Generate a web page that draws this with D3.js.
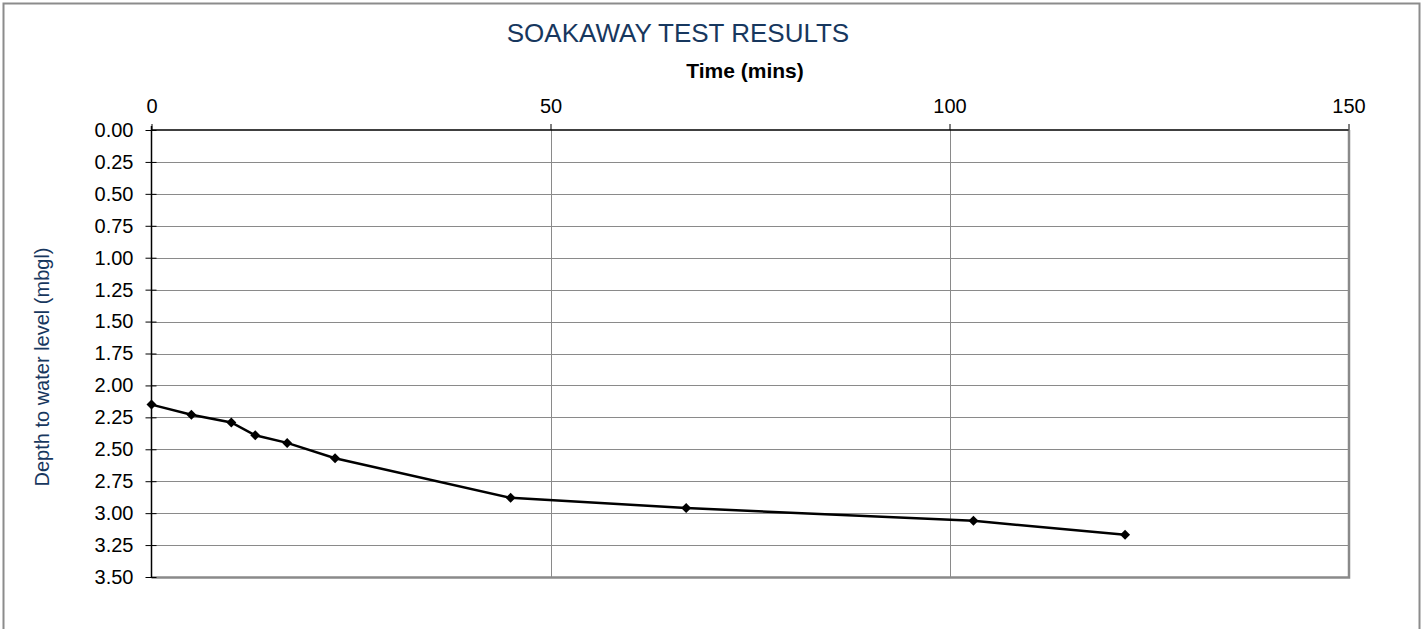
<!DOCTYPE html>
<html>
<head>
<meta charset="utf-8">
<script src="https://cdn.jsdelivr.net/npm/d3@7"></script>
<style>
  html, body { margin: 0; padding: 0; background: #fff; }
  svg { display: block; font-family: "Liberation Sans", Arial, sans-serif; }
</style>
</head>
<body>
<svg id="chart" width="1426" height="629"></svg>
<script>
// Soakaway test readings: elapsed time (mins) and depth to water (m below ground level)
const timeMins = [0, 5, 10, 13, 17, 23, 45, 67, 103, 122];
const depthMbgl = [2.15, 2.23, 2.29, 2.39, 2.45, 2.57, 2.88, 2.96, 3.06, 3.17];
const xTicks = [0, 50, 100, 150];
const yTicks = [0, 0.25, 0.5, 0.75, 1, 1.25, 1.5, 1.75, 2, 2.25, 2.5, 2.75, 3, 3.25, 3.5];

const titleText = "SOAKAWAY TEST RESULTS";
const xLabel = "Time (mins)";
const yLabel = "Depth to water level (mbgl)";

const svg = d3.select("#chart");
const plot = { left: 151.5, top: 130, right: 1348.5, bottom: 577 };
const navy = "#17375E";
const fontFam = "Liberation Sans, Arial, sans-serif";

// outer frame
svg.append("rect").attr("x", 3.5).attr("y", 3.5).attr("width", 1416).attr("height", 640)
  .attr("fill", "#fff").attr("stroke", "#8c8c8c").attr("stroke-width", 2);

const x = d3.scaleLinear().domain([0, 150]).range([plot.left, plot.right]);
const y = d3.scaleLinear().domain([0, 3.5]).range([plot.top, plot.bottom]);

// horizontal gridlines
svg.append("g").selectAll("line").data(yTicks.slice(1)).join("line")
  .attr("x1", plot.left).attr("x2", plot.right)
  .attr("y1", d => Math.round(y(d)) + 0.5).attr("y2", d => Math.round(y(d)) + 0.5)
  .attr("stroke", "#8a8a8a").attr("stroke-width", 1);

// vertical gridlines
svg.append("g").selectAll("line").data(xTicks.slice(1)).join("line")
  .attr("x1", d => Math.round(x(d)) + 0.5).attr("x2", d => Math.round(x(d)) + 0.5)
  .attr("y1", plot.top).attr("y2", plot.bottom)
  .attr("stroke", "#8a8a8a").attr("stroke-width", 1);

// plot frame right / bottom
svg.append("path")
  .attr("d", `M${plot.right + 0.5},${plot.top}V${plot.bottom + 0.5}H${plot.left}`)
  .attr("fill", "none").attr("stroke", "#8a8a8a").attr("stroke-width", 2.5);

// top axis (time)
const xAxis = d3.axisTop(x).tickValues(xTicks).tickSize(6).tickPadding(11).tickFormat(d3.format("d"));
const gx = svg.append("g").attr("transform", `translate(0,${plot.top})`).call(xAxis);
gx.select(".domain").attr("stroke", "#000").attr("stroke-width", 1.5).attr("d", `M${plot.left},0H${plot.right}`);
gx.selectAll(".tick line").attr("stroke", "#000");
gx.selectAll(".tick text").attr("font-size", 20).attr("fill", "#000").attr("font-family", fontFam);

// left axis (depth)
const yAxis = d3.axisLeft(y).tickValues(yTicks).tickSize(6).tickPadding(12).tickFormat(d3.format(".2f"));
const gy = svg.append("g").attr("transform", `translate(${plot.left},0)`).call(yAxis);
gy.select(".domain").attr("stroke", "#000").attr("stroke-width", 1.5).attr("d", `M0,${plot.top - 4}V${plot.bottom}`);
gy.selectAll(".tick line").attr("stroke", "#000").attr("x2", -6).attr("x1", 5);
gy.selectAll(".tick text").attr("font-size", 20).attr("fill", "#000").attr("font-family", fontFam);

// titles
svg.append("text").attr("x", 678).attr("y", 42).attr("text-anchor", "middle")
  .attr("font-size", 26).attr("fill", navy).text(titleText);
svg.append("text").attr("x", 745).attr("y", 78).attr("text-anchor", "middle")
  .attr("font-size", 21).attr("font-weight", "bold").attr("fill", "#000").text(xLabel);
svg.append("text").attr("transform", `translate(49,367) rotate(-90)`)
  .attr("text-anchor", "middle").attr("font-size", 20).attr("fill", navy).text(yLabel);

// data series
const pts = timeMins.map((t, i) => [t, depthMbgl[i]]);
svg.append("path").datum(pts)
  .attr("d", d3.line().x(d => x(d[0])).y(d => y(d[1])))
  .attr("fill", "none").attr("stroke", "#000").attr("stroke-width", 2.5);

svg.append("g").selectAll("path").data(pts).join("path")
  .attr("transform", d => `translate(${x(d[0])},${y(d[1])})`)
  .attr("d", "M0,-5L5,0L0,5L-5,0Z")
  .attr("fill", "#000");
</script>
</body>
</html>
